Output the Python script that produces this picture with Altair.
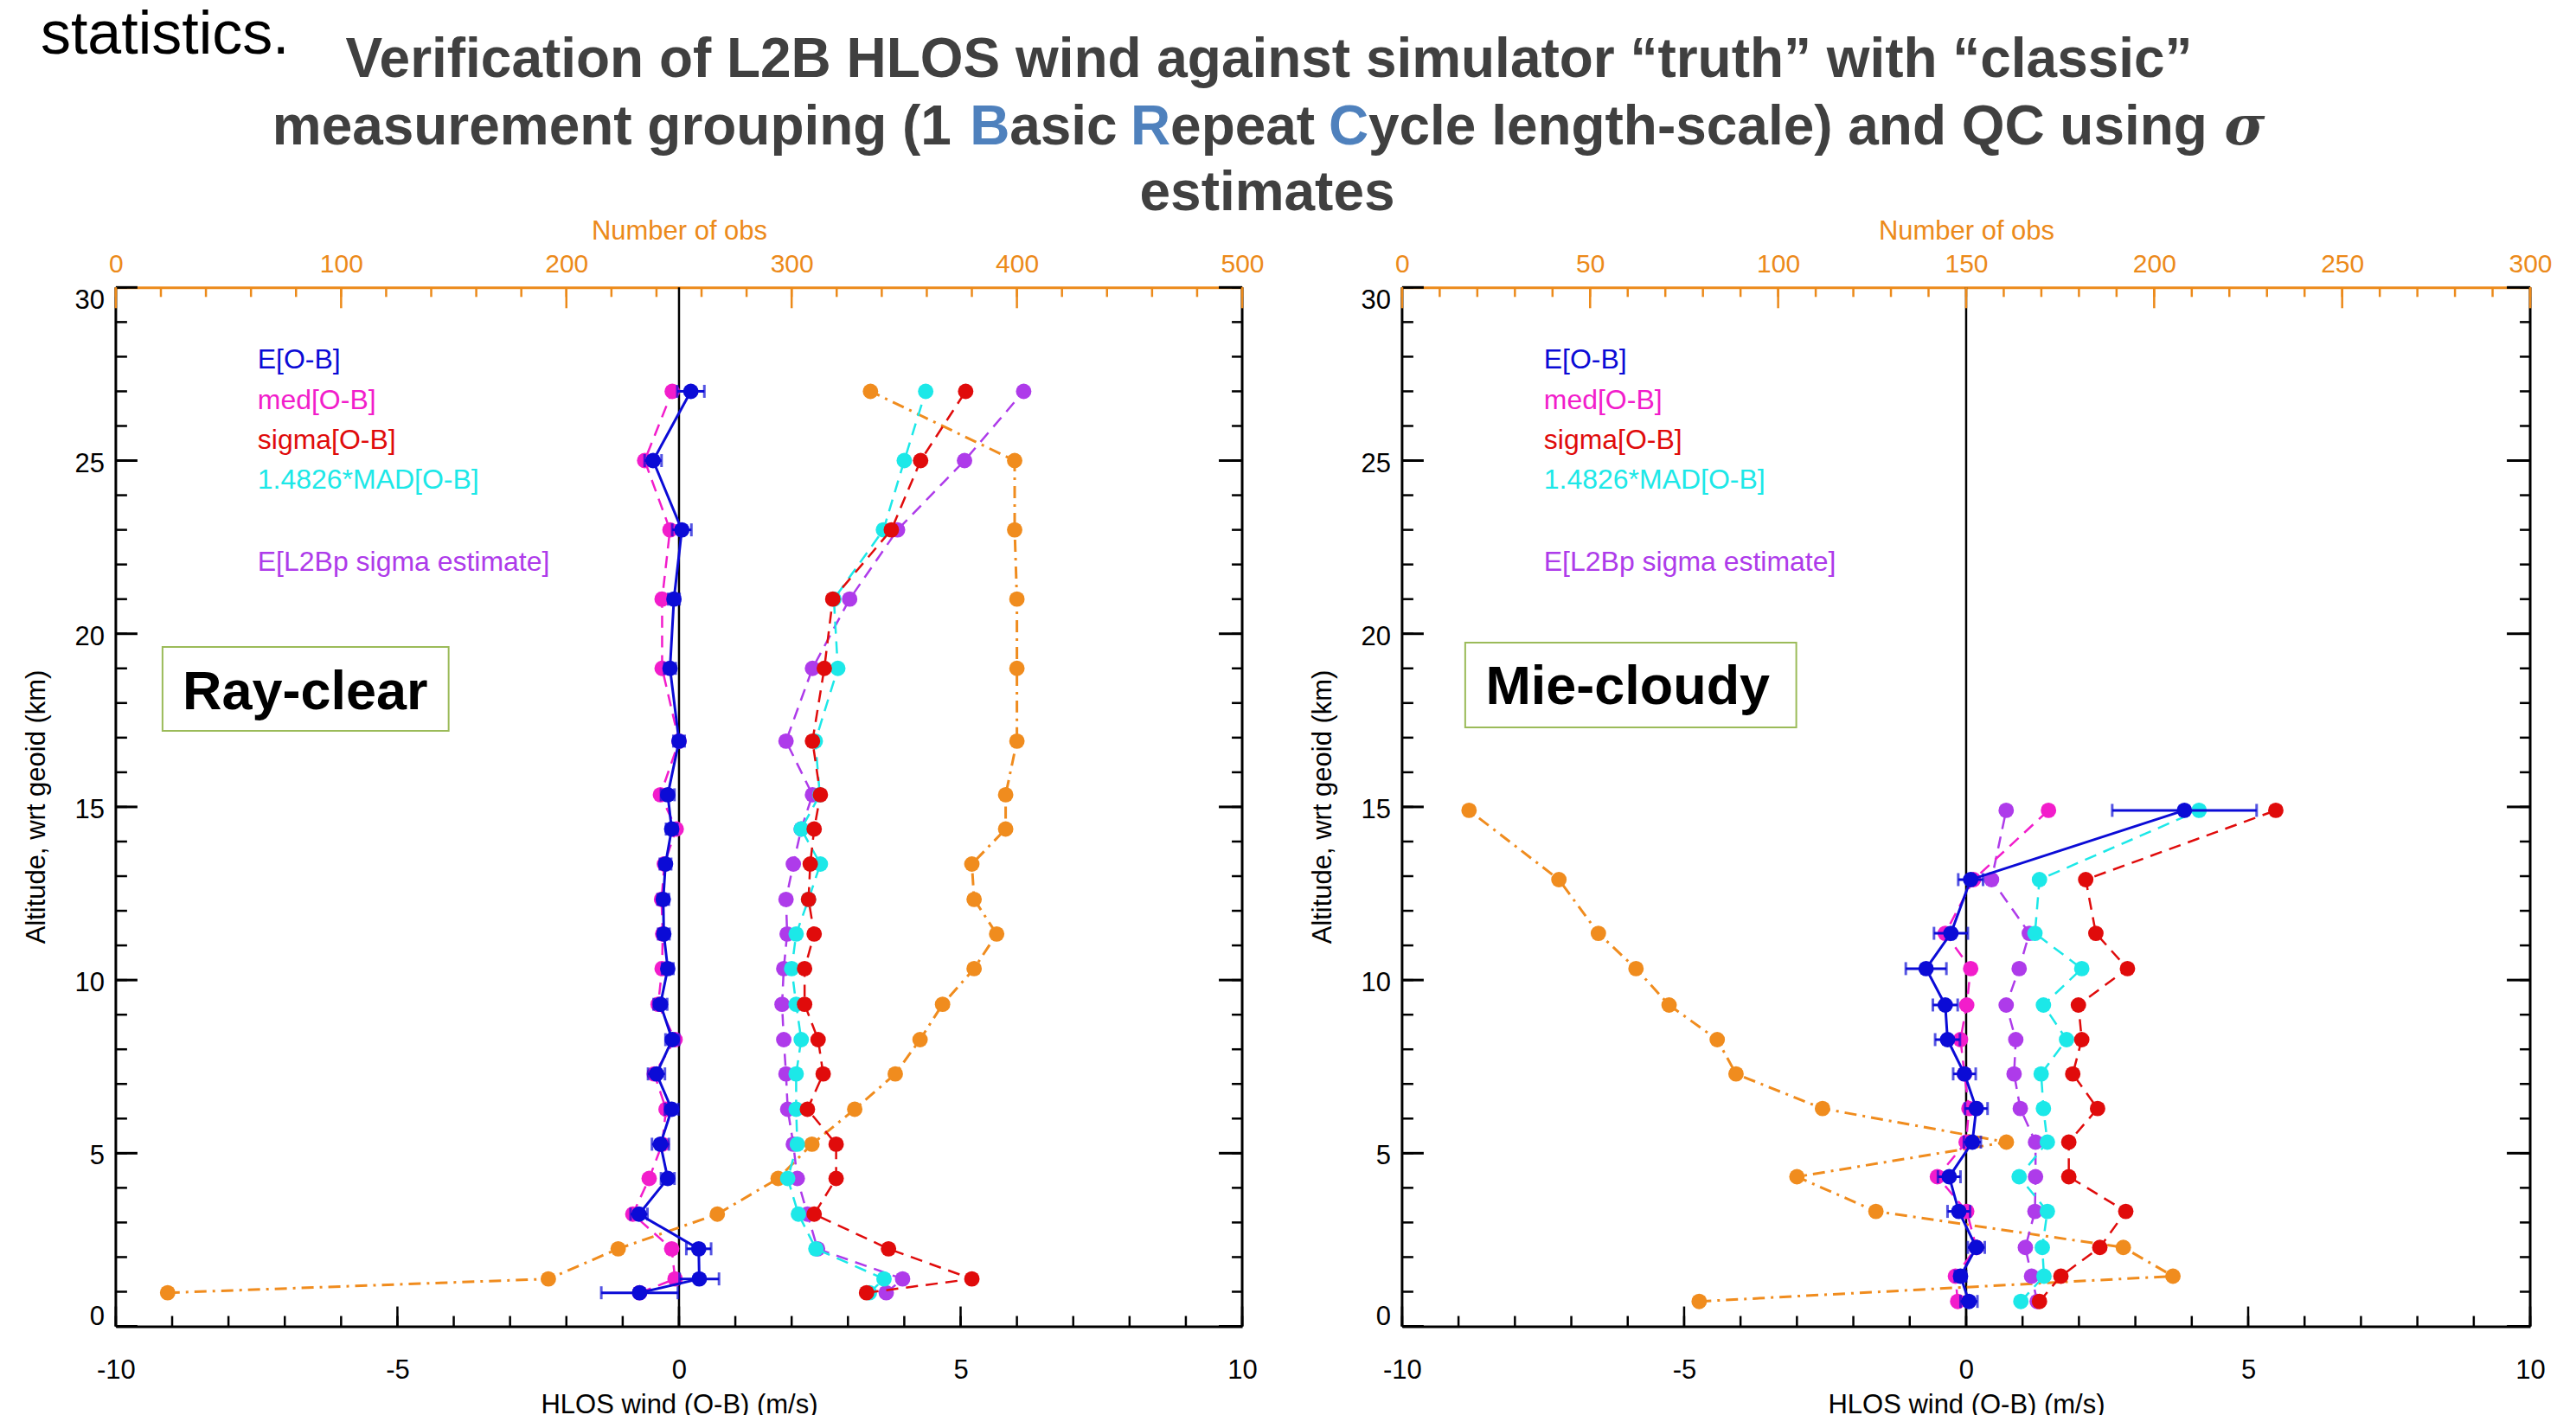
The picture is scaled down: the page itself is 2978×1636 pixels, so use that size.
import altair as alt
import pandas as pd

# ---------------- data ----------------
LEFT_ALT = [27, 25, 23, 21, 19, 16.9, 15.35, 14.36, 13.35, 12.33, 11.33, 10.33, 9.3, 8.28, 7.29, 6.27, 5.26, 4.27, 3.24, 2.24, 1.37, 0.97]
LEFT_E = [0.21, -0.46, 0.05, -0.09, -0.16, 0.0, -0.2, -0.13, -0.24, -0.28, -0.27, -0.2, -0.33, -0.12, -0.4, -0.13, -0.33, -0.2, -0.71, 0.35, 0.36, -0.7]
LEFT_E_ERR = [0.24, 0.15, 0.17, 0.1, 0.1, 0.1, 0.12, 0.1, 0.1, 0.1, 0.1, 0.1, 0.12, 0.12, 0.15, 0.12, 0.15, 0.12, 0.15, 0.22, 0.35, 0.68]
LEFT_MED = [-0.12, -0.61, -0.16, -0.3, -0.3, 0.0, -0.33, -0.05, -0.26, -0.31, -0.29, -0.3, -0.37, -0.07, -0.44, -0.23, -0.3, -0.53, -0.82, -0.13, -0.07, -0.7]
LEFT_SIGMA = [5.09, 4.29, 3.77, 2.73, 2.58, 2.37, 2.51, 2.4, 2.33, 2.3, 2.4, 2.23, 2.23, 2.47, 2.56, 2.28, 2.79, 2.79, 2.4, 3.72, 5.2, 3.33]
LEFT_MAD = [4.38, 4.0, 3.63, 2.75, 2.82, 2.42, 2.5, 2.17, 2.51, 2.3, 2.08, 2.0, 2.08, 2.17, 2.08, 2.08, 2.1, 1.93, 2.12, 2.43, 3.64, 3.38]
LEFT_L2BP = [6.12, 5.07, 3.88, 3.03, 2.37, 1.9, 2.37, 2.17, 2.03, 1.9, 1.92, 1.86, 1.83, 1.86, 1.9, 1.93, 2.03, 2.1, 2.28, 2.46, 3.97, 3.68]
LEFT_OBS = [335, 399, 399, 400, 400, 400, 395, 395, 380, 381, 391, 381, 367, 357, 346, 328, 309, 294, 267, 223, 192, 23]

RIGHT_ALT = [14.9, 12.9, 11.35, 10.33, 9.28, 8.28, 7.29, 6.29, 5.32, 4.32, 3.32, 2.28, 1.45, 0.72]
RIGHT_E = [3.87, 0.08, -0.27, -0.71, -0.37, -0.33, -0.03, 0.18, 0.11, -0.3, -0.13, 0.18, -0.1, 0.05]
RIGHT_E_ERR = [1.28, 0.22, 0.3, 0.36, 0.22, 0.22, 0.2, 0.2, 0.15, 0.2, 0.2, 0.15, 0.1, 0.15]
RIGHT_MED = [1.46, 0.13, -0.37, 0.08, 0.01, -0.1, -0.03, 0.05, 0.0, -0.51, 0.01, 0.18, -0.19, -0.15]
RIGHT_SIGMA = [5.49, 2.12, 2.3, 2.86, 1.99, 2.05, 1.89, 2.33, 1.82, 1.82, 2.83, 2.37, 1.68, 1.3]
RIGHT_MAD = [4.13, 1.3, 1.22, 2.05, 1.37, 1.78, 1.33, 1.37, 1.44, 0.94, 1.44, 1.35, 1.38, 0.97]
RIGHT_L2BP = [0.71, 0.45, 1.12, 0.94, 0.71, 0.88, 0.85, 0.96, 1.23, 1.23, 1.22, 1.05, 1.16, 1.26]
RIGHT_OBS = [17.8, 41.7, 52.2, 62.2, 71, 83.8, 88.8, 111.8, 160.7, 105, 126, 191.8, 205, 79]

WIND_MAJOR = [-10, -5, 0, 5, 10]
WIND_MINOR = list(range(-10, 11))
ALT_MAJOR = [0, 5, 10, 15, 20, 25, 30]
ALT_MINOR = list(range(0, 31))
LEFT_OBS_MAJOR = [0, 100, 200, 300, 400, 500]
LEFT_OBS_MINOR = list(range(0, 501, 20))
RIGHT_OBS_MAJOR = [0, 50, 100, 150, 200, 250, 300]
RIGHT_OBS_MINOR = list(range(0, 301, 10))

LEGEND_LABELS = ["E[O-B]", "med[O-B]", "sigma[O-B]", "1.4826*MAD[O-B]", "E[L2Bp sigma estimate]"]
PANEL_LABELS = ["Ray-clear", "Mie-cloudy"]
X_TITLE = "HLOS wind (O-B) (m/s)"
Y_TITLE = "Altitude, wrt geoid (km)"
OBS_TITLE = "Number of obs"
TITLE_LINE1 = "Verification of L2B HLOS wind against simulator \u201ctruth\u201d with \u201cclassic\u201d"
TITLE_LINE2_PARTS = ["measurement grouping (1 ", "B", "asic ", "R", "epeat ", "C", "ycle length-scale) and QC using "]
TITLE_LINE3 = "estimates"

# ---------------- style ----------------
FONT = "Liberation Sans"
BLUE = "#0B0BD6"
MAGENTA = "#F21DCB"
RED = "#E00B0B"
CYAN = "#1CE8E8"
PURPLE = "#AE3BEA"
ORANGE = "#F08C1E"
AXIS_ORANGE = "#EC8A1A"
GREEN_BOX = "#9BBB59"
TITLE_GREY = "#404040"
TITLE_BLUE = "#4F81BD"

H = 1202
ONE = pd.DataFrame({"k": [0]})
PT = 320
TITLE_SIZE = 64


def xw():
    return alt.Scale(domain=[-10, 10], nice=False, zero=False)


def ys():
    return alt.Scale(domain=[0, 30], nice=False, zero=False)


def text_layer(text, x, y, size, color, weight="normal", align="left", font=FONT, style="normal",
               angle=0, baseline="alphabetic"):
    return alt.Chart(ONE).mark_text(
        text=text, font=font, fontSize=size, fontWeight=weight, color=color,
        align=align, baseline=baseline, fontStyle=style, angle=angle
    ).encode(x=alt.value(x), y=alt.value(y))


def make_panel(W, alts, e, err, med, sig, mad, l2bp, obs, obs_max, obs_major, obs_minor,
               label, box, label_x, label_y, extra_layers):
    df = pd.DataFrame({"alt": alts, "e": e, "err": err, "med": med, "sigma": sig,
                       "mad": mad, "l2bp": l2bp, "obs": obs})
    df["lo"] = df["e"] - df["err"]
    df["hi"] = df["e"] + df["err"]
    xo = lambda: alt.Scale(domain=[0, obs_max], nice=False, zero=False)
    base = alt.Chart(df)
    Y = alt.Y("alt:Q", scale=ys(), axis=None)

    layers = []
    # panel label box
    layers.append(alt.Chart(ONE).mark_rect(fill="white", stroke=GREEN_BOX, strokeWidth=2).encode(
        x=alt.value(box[0]), x2=alt.value(box[1]), y=alt.value(box[2]), y2=alt.value(box[3])))
    layers.append(text_layer(label, label_x, label_y, 63, "black", weight="bold", align="center"))

    # zero line
    layers.append(alt.Chart(pd.DataFrame({"v": [0]})).mark_rule(color="black", strokeWidth=2.5).encode(
        x=alt.X("v:Q", scale=xw(), axis=None), y=alt.value(0), y2=alt.value(H)))

    # bottom ticks / axis
    layers.append(alt.Chart(pd.DataFrame({"v": WIND_MINOR})).mark_rule(color="black", strokeWidth=2.5).encode(
        x=alt.X("v:Q", scale=xw(), axis=None), y=alt.value(H), y2=alt.value(H - 12)))
    layers.append(alt.Chart(pd.DataFrame({"v": WIND_MAJOR})).mark_rule(color="black", strokeWidth=2.5).encode(
        x=alt.X("v:Q", scale=xw(), axis=alt.Axis(
            orient="bottom", values=WIND_MAJOR, ticks=False, tickSize=0, grid=False,
            domainColor="black", domainWidth=3, labelFontSize=31, labelColor="black",
            labelPadding=36, labelFlush=False, labelFont=FONT,
            labelExpr="datum.value < 0 ? '-' + (-datum.value) : '' + datum.value",
            title=X_TITLE, titleFontSize=31, titleFontWeight="normal",
            titleColor="black", titlePadding=10, titleFont=FONT)),
        y=alt.value(H), y2=alt.value(H - 23)))

    # left domain, ticks and labels
    layers.append(alt.Chart(ONE).mark_rule(color="black", strokeWidth=3).encode(
        x=alt.value(0), y=alt.value(0), y2=alt.value(H)))
    layers.append(alt.Chart(pd.DataFrame({"v": ALT_MINOR})).mark_rule(color="black", strokeWidth=2.5).encode(
        y=alt.Y("v:Q", scale=ys(), axis=None), x=alt.value(0), x2=alt.value(13)))
    layers.append(alt.Chart(pd.DataFrame({"v": ALT_MAJOR})).mark_rule(color="black", strokeWidth=3).encode(
        y=alt.Y("v:Q", scale=ys(), axis=None), x=alt.value(0), x2=alt.value(25)))
    lab_df = pd.DataFrame({"v": ALT_MAJOR})
    lab_df["t"] = lab_df["v"].astype(str)
    for sel, dy in ((lab_df["v"] == 0, -11), ((lab_df["v"] > 0) & (lab_df["v"] < 30), 4), (lab_df["v"] == 30, 16)):
        layers.append(alt.Chart(lab_df[sel]).mark_text(
            font=FONT, fontSize=31, color="black", align="right", baseline="middle", dy=dy
        ).encode(y=alt.Y("v:Q", scale=ys(), axis=None), x=alt.value(-13), text="t:N"))
    layers.append(text_layer(Y_TITLE, -91, H / 2, 31, "black", align="center", angle=270, baseline="middle"))

    # right ticks / domain
    layers.append(alt.Chart(pd.DataFrame({"v": ALT_MINOR})).mark_rule(color="black", strokeWidth=2.5).encode(
        y=alt.Y("v:Q", scale=ys(), axis=None), x=alt.value(W - 12), x2=alt.value(W)))
    layers.append(alt.Chart(pd.DataFrame({"v": ALT_MAJOR})).mark_rule(color="black", strokeWidth=3).encode(
        y=alt.Y("v:Q", scale=ys(), axis=None), x=alt.value(W - 27), x2=alt.value(W)))
    layers.append(alt.Chart(ONE).mark_rule(color="black", strokeWidth=3).encode(
        x=alt.value(W), y=alt.value(0), y2=alt.value(H)))

    # top (number of obs) ticks / axis
    layers.append(alt.Chart(pd.DataFrame({"v": obs_minor})).mark_rule(color=AXIS_ORANGE, strokeWidth=2.5).encode(
        x=alt.X("v:Q", scale=xo(), axis=None), y=alt.value(0), y2=alt.value(11)))
    layers.append(alt.Chart(pd.DataFrame({"v": obs_major})).mark_rule(color=AXIS_ORANGE, strokeWidth=2.5).encode(
        x=alt.X("v:Q", scale=xo(), axis=alt.Axis(
            orient="top", values=obs_major, ticks=False, tickSize=0, grid=False,
            domainColor=AXIS_ORANGE, domainWidth=3, labelFontSize=30, labelColor=AXIS_ORANGE,
            labelPadding=12, labelFlush=False, labelFont=FONT,
            title=OBS_TITLE, titleFontSize=31, titleFontWeight="normal",
            titleColor=AXIS_ORANGE, titlePadding=7, titleFont=FONT)),
        y=alt.value(0), y2=alt.value(24)))

    # number of obs series
    layers.append(base.mark_line(color=ORANGE, strokeWidth=3, strokeDash=[14, 7, 3, 7]).encode(
        x=alt.X("obs:Q", scale=xo(), axis=None), y=Y, order="alt:Q"))
    layers.append(base.mark_circle(color=ORANGE, size=PT, opacity=1).encode(
        x=alt.X("obs:Q", scale=xo(), axis=None), y=Y))

    def series(field, color, dash=None, width=2.5):
        kw = {"color": color, "strokeWidth": width}
        if dash is not None:
            kw["strokeDash"] = dash
        ln = base.mark_line(**kw).encode(
            x=alt.X(f"{field}:Q", scale=xw(), axis=None), y=Y, order="alt:Q")
        pt = base.mark_circle(color=color, size=PT, opacity=1).encode(
            x=alt.X(f"{field}:Q", scale=xw(), axis=None), y=Y)
        return [ln, pt]

    layers += series("l2bp", PURPLE, [14, 9])
    layers += series("mad", CYAN, [14, 9])
    layers += series("sigma", RED, [14, 9])
    layers += series("med", MAGENTA, [14, 9])

    # E[O-B] with error bars
    layers.append(base.mark_rule(color=BLUE, strokeWidth=3).encode(
        x=alt.X("lo:Q", scale=xw(), axis=None), x2="hi:Q", y=Y))
    layers.append(base.mark_tick(color=BLUE, orient="vertical", size=15, thickness=3).encode(
        x=alt.X("lo:Q", scale=xw(), axis=None), y=Y))
    layers.append(base.mark_tick(color=BLUE, orient="vertical", size=15, thickness=3).encode(
        x=alt.X("hi:Q", scale=xw(), axis=None), y=Y))
    layers += series("e", BLUE, None, 3)

    # in-plot legend text
    for lab, col, yy in zip(LEGEND_LABELS, [BLUE, MAGENTA, RED, CYAN, PURPLE], [94, 141, 187, 233, 328]):
        layers.append(text_layer(lab, 164, yy, 32, col))

    layers += extra_layers
    return alt.layer(*layers).resolve_scale(x="independent").properties(width=W, height=H)


# Titles and page text (relative to the left plot area, whose origin is at 133,331)
OX, OY = 133, 331
title_layers = [
    # layout anchors: page corners
    alt.Chart(ONE).mark_rect(opacity=0).encode(
        x=alt.value(-OX), x2=alt.value(-OX + 1), y=alt.value(-OY), y2=alt.value(-OY + 1)),
    alt.Chart(ONE).mark_rect(opacity=0).encode(
        x=alt.value(2978 - OX - 1), x2=alt.value(2978 - OX), y=alt.value(1636 - OY - 1), y2=alt.value(1636 - OY)),
    text_layer("statistics.", 46 - OX, 60 - OY, 70, "black"),
    text_layer(TITLE_LINE1, 1467 - OX, 88 - OY, TITLE_SIZE, TITLE_GREY, weight="bold", align="center"),
    text_layer(TITLE_LINE3, 1465 - OX, 242 - OY, TITLE_SIZE, TITLE_GREY, weight="bold", align="center"),
]
line2_x = [314, 1121, 1167, 1307, 1353, 1536, 1582]
line2_col = [TITLE_GREY, TITLE_BLUE, TITLE_GREY, TITLE_BLUE, TITLE_GREY, TITLE_BLUE, TITLE_GREY]
for part, px, col in zip(TITLE_LINE2_PARTS, line2_x, line2_col):
    title_layers.append(text_layer(part, px - OX, 166 - OY, TITLE_SIZE, col, weight="bold"))
title_layers.append(text_layer("\u03c3", 2572 - OX, 166 - OY, TITLE_SIZE, TITLE_GREY, weight="bold",
                               font="DejaVu Serif", style="italic"))

left = make_panel(1303, LEFT_ALT, LEFT_E, LEFT_E_ERR, LEFT_MED, LEFT_SIGMA, LEFT_MAD, LEFT_L2BP,
                  LEFT_OBS, 500, LEFT_OBS_MAJOR, LEFT_OBS_MINOR,
                  PANEL_LABELS[0], (54, 385, 416, 513), 219, 488, title_layers)
right = make_panel(1305, RIGHT_ALT, RIGHT_E, RIGHT_E_ERR, RIGHT_MED, RIGHT_SIGMA, RIGHT_MAD, RIGHT_L2BP,
                   RIGHT_OBS, 300, RIGHT_OBS_MAJOR, RIGHT_OBS_MINOR,
                   PANEL_LABELS[1], (73, 456, 411, 509), 261, 482, [])

chart = alt.hconcat(left, right, spacing=185, bounds="flush").properties(
    padding=0, background="white"
).configure_view(stroke=None).configure(font=FONT)

chart.save("out.html", embed_options={"renderer": "svg", "actions": False})
